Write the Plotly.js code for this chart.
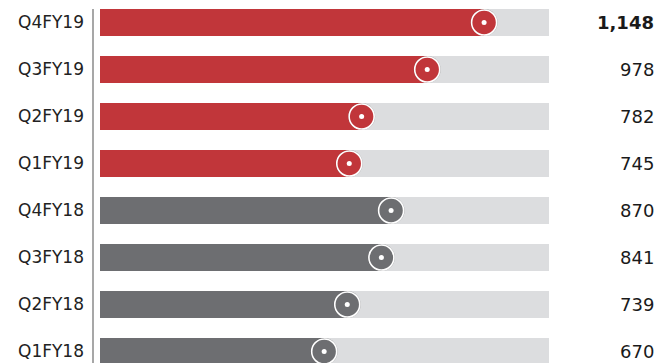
<!DOCTYPE html>
<html><head><meta charset="utf-8">
<script src="https://cdn.plot.ly/plotly-3.0.1.min.js"></script>
<style>html,body{margin:0;padding:0;background:#fff}#chart{width:670px;height:363px}</style>
</head><body><div id="chart"></div>
<script>
const categories = ["Q4FY19","Q3FY19","Q2FY19","Q1FY19","Q4FY18","Q3FY18","Q2FY18","Q1FY18"];
const values = [1148, 978, 782, 745, 870, 841, 739, 670];
const valueLabels = ["1,148","978","782","745","870","841","739","670"];
const boldLabel = [true,false,false,false,false,false,false,false];
const trackMax = 1342;
const barColors = ["#c1363a","#c1363a","#c1363a","#c1363a","#6d6e71","#6d6e71","#6d6e71","#6d6e71"];

const idx = categories.map((_, i) => i);
const traces = [
  {type:'bar', orientation:'h', x: categories.map(()=>trackMax), y: idx,
   marker:{color:'#dcdddf'}, hoverinfo:'skip', showlegend:false},
  {type:'bar', orientation:'h', x: values, y: idx,
   marker:{color: barColors}, hoverinfo:'skip', showlegend:false},
  {type:'scatter', mode:'markers', x: values, y: idx, cliponaxis:false,
   marker:{size:27, color:'rgba(40,40,40,0.35)', line:{width:0}}, hoverinfo:'skip', showlegend:false},
  {type:'scatter', mode:'markers', x: values, y: idx, cliponaxis:false,
   marker:{size:25, color: barColors, line:{color:'#ffffff', width:1.6}}, hoverinfo:'skip', showlegend:false},
  {type:'scatter', mode:'markers', x: values, y: idx, cliponaxis:false,
   marker:{size:5, color:'#ffffff', line:{width:0}}, hoverinfo:'skip', showlegend:false}
];

const annotations = values.map((v, i) => ({
  xref:'paper', yref:'y', x: (656-100)/449, y: i, xanchor:'right', yanchor:'middle',
  text: boldLabel[i] ? '<b>'+valueLabels[i]+'</b>' : valueLabels[i],
  showarrow:false, font:{family:'DejaVu Sans, sans-serif', size:18, color:'#1a1a1a'}
}));

const pitch = 47;
const yTop = -22.5/pitch;
const yBottom = yTop + 363/pitch;

const layout = {
  width:670, height:363,
  margin:{l:100, r:121, t:0, b:0, pad:0},
  paper_bgcolor:'#ffffff', plot_bgcolor:'#ffffff',
  barmode:'overlay', bargap: 20/47,
  xaxis:{range:[0, trackMax], visible:false, fixedrange:true},
  yaxis:{range:[yBottom, yTop], tickmode:'array', tickvals: idx, ticktext: categories,
         showgrid:false, zeroline:false, showline:false, ticks:'',
         ticklabelstandoff:15,
         tickfont:{family:'DejaVu Sans, sans-serif', size:17, color:'#222222'}, fixedrange:true},
  shapes:[{type:'line', xref:'paper', yref:'y', x0:(93-100)/449, x1:(93-100)/449,
           y0: -13.5/pitch, y1: 8, line:{color:'#8a8a8a', width:1.5}}],
  annotations: annotations,
  showlegend:false
};
Plotly.newPlot('chart', traces, layout, {displayModeBar:false, staticPlot:true});
</script></body></html>
